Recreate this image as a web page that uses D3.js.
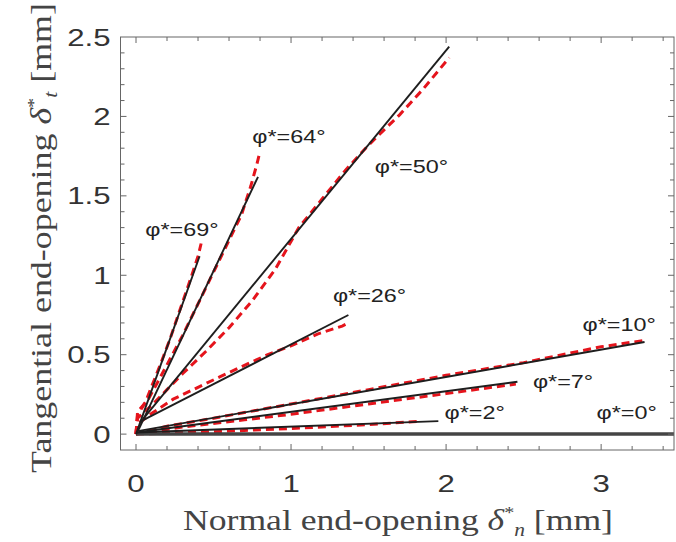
<!DOCTYPE html>
<html>
<head>
<meta charset="utf-8">
<script src="https://cdn.jsdelivr.net/npm/d3@7"></script>
<style>
  body { margin: 0; background: #fff; }
  svg { display: block; }
</style>
</head>
<body>
<div id="chart"></div>
<script>

// angle of each fitted line (deg)
const angles = [0, 2, 7, 10, 26, 50, 64, 69];

// fitted lines: start and end point [dn, dt] in mm
const fitStart = [[0, 0], [0, 0.01], [0, 0.01], [0.02, 0.02], [0.03, 0.08], [0.045, 0.095], [0.013, 0.02], [0, 0]];
const fitEnd   = [[3.6, 0], [1.95, 0.082], [2.46, 0.33], [3.28, 0.58], [1.37, 0.75], [2.02, 2.44], [0.787, 1.62], [0.41, 1.12]];

// measured curves (red dashed)
const meas02 = [[0, 0], [0.5, 0.015], [1.0, 0.035], [1.5, 0.06], [1.82, 0.08]];
const meas07 = [[0, 0], [0.3, 0.045], [0.7, 0.09], [1.0, 0.125], [1.5, 0.19], [2.0, 0.255], [2.3, 0.295], [2.45, 0.315]];
const meas10 = [[0, 0], [0.2, 0.05], [0.5, 0.1], [1.0, 0.19], [1.5, 0.28], [2.0, 0.37], [2.5, 0.45], [3.0, 0.55], [3.28, 0.59]];
const meas26 = [[0, 0], [0.005, 0.06], [0.1, 0.13], [0.24, 0.22], [0.39, 0.29], [0.54, 0.36], [0.67, 0.42], [0.85, 0.5], [1.01, 0.56], [1.17, 0.63], [1.33, 0.68], [1.37, 0.70]];
const meas50 = [[0, 0], [0.01, 0.1], [0.1, 0.18], [0.2, 0.28], [0.3, 0.38], [0.45, 0.52], [0.6, 0.67], [0.75, 0.84], [0.9, 1.04], [1.05, 1.30], [1.2, 1.48], [1.35, 1.66], [1.5, 1.82], [1.7, 2.01], [1.85, 2.17], [2.02, 2.37]];
const meas64 = [[0, 0], [0.01, 0.14], [0.08, 0.22], [0.18, 0.4], [0.3, 0.62], [0.42, 0.86], [0.52, 1.06], [0.6, 1.22], [0.68, 1.38], [0.74, 1.56], [0.78, 1.70], [0.80, 1.78]];
const meas69 = [[0, 0], [0.01, 0.12], [0.06, 0.2], [0.15, 0.42], [0.22, 0.6], [0.3, 0.83], [0.36, 1.0], [0.40, 1.12], [0.42, 1.2]];
const measured = [meas02, meas07, meas10, meas26, meas50, meas64, meas69];

// label anchors [dn, dt]
const labelPos = [[2.97, 0.095], [1.99, 0.095], [2.56, 0.29], [2.88, 0.65], [1.27, 0.83], [1.54, 1.645], [0.75, 1.835], [0.06, 1.25]];

const xTicks = [0, 1, 2, 3];
const yTicks = [0, 0.5, 1, 1.5, 2, 2.5];

const width = 676, height = 542;
const margin = {top: 37, right: 2, bottom: 92, left: 120.5};
const stretch = 1.3;   // the original picture is wider than tall

const svg = d3.select("#chart").append("svg")
    .attr("width", width)
    .attr("height", height);

const x = d3.scaleLinear().domain([-0.1, 3.47]).range([margin.left, width - margin.right]);
const y = d3.scaleLinear().domain([-0.1, 2.5]).range([height - margin.bottom, margin.top]);

const plot = svg.append("g");

// clip to axes box
svg.append("clipPath").attr("id", "clip")
    .append("rect")
    .attr("x", x(-0.1)).attr("y", y(2.5))
    .attr("width", x(3.47) - x(-0.1)).attr("height", y(-0.1) - y(2.5));

const lines = plot.append("g").attr("clip-path", "url(#clip)");

const line = d3.line().x(d => x(d[0])).y(d => y(d[1]));

// red measured curves
lines.selectAll(".meas")
    .data(measured)
    .join("path")
    .attr("class", "meas")
    .attr("d", line)
    .attr("fill", "none")
    .attr("stroke", "#e5141c")
    .attr("stroke-width", 3)
    .attr("stroke-dasharray", "8,5")
    .attr("stroke-linecap", "butt");

// black fitted lines
lines.selectAll(".fit")
    .data(angles)
    .join("path")
    .attr("class", "fit")
    .attr("d", (d, i) => line([fitStart[i], fitEnd[i]]))
    .attr("fill", "none")
    .attr("stroke", (d) => d === 0 ? "#444" : "#1e1e1e")
    .attr("stroke-width", (d) => d === 0 ? 3.5 : 1.9);

// angle labels
plot.selectAll(".lab")
    .data(angles)
    .join("text")
    .attr("class", "lab")
    .attr("transform", (d, i) => `translate(${x(labelPos[i][0])},${y(labelPos[i][1])}) scale(${stretch},1)`)
    .style("font-family", "Liberation Sans, Arial, sans-serif")
    .style("font-size", "18px")
    .style("fill", "#222")
    .text(d => "φ*=" + d + "°");

// axes
const axisCol = "#666";
const axes = svg.append("g");

axes.append("rect")
    .attr("x", x(-0.1)).attr("y", y(2.5))
    .attr("width", x(3.47) - x(-0.1)).attr("height", y(-0.1) - y(2.5))
    .attr("fill", "none")
    .attr("stroke", axisCol)
    .attr("stroke-width", 1);

const xMinor = d3.range(0, 3.41, 0.2);
const yMinor = d3.range(0, 2.5, 0.1);

// x ticks, bottom and top, pointing inward
[[y(-0.1), -1], [y(2.5), 1]].forEach(([y0, dir]) => {
  axes.selectAll(null).data(xMinor).join("line")
      .attr("x1", d => x(d)).attr("x2", d => x(d))
      .attr("y1", y0).attr("y2", d => y0 + dir * (Math.abs(d - Math.round(d)) < 1e-6 ? 6 : 4))
      .attr("stroke", axisCol);
});

// y ticks, left and right
[[x(-0.1), 1], [x(3.47), -1]].forEach(([x0, dir]) => {
  axes.selectAll(null).data(yMinor).join("line")
      .attr("y1", d => y(d)).attr("y2", d => y(d))
      .attr("x1", x0).attr("x2", d => x0 + dir * (Math.abs(d * 2 - Math.round(d * 2)) < 1e-6 ? 6 : 4))
      .attr("stroke", axisCol);
});

const tickFont = "Liberation Sans, Arial, sans-serif";

axes.selectAll(".xt").data(xTicks).join("text")
    .attr("class", "xt")
    .attr("transform", d => `translate(${x(d)},492) scale(${stretch},1)`)
    .attr("text-anchor", "middle")
    .style("font-family", tickFont).style("font-size", "24px").style("fill", "#333")
    .text(d => d);

axes.selectAll(".yt").data(yTicks).join("text")
    .attr("class", "yt")
    .attr("transform", d => `translate(${x(-0.1) - 10},${y(d)}) scale(${stretch},1)`)
    .attr("dy", "0.36em")
    .attr("text-anchor", "end")
    .style("font-family", tickFont).style("font-size", "24px").style("fill", "#333")
    .text(d => d);

// axis titles (serif, LaTeX look)
const serif = "Liberation Serif, DejaVu Serif, serif";

const xl = svg.append("text")
    .attr("x", 398).attr("y", 530)
    .attr("text-anchor", "middle")
    .attr("textLength", 430)
    .attr("lengthAdjust", "spacingAndGlyphs")
    .style("font-family", serif).style("font-size", "30px").style("fill", "#444");
xl.append("tspan").text("Normal end-opening ");
xl.append("tspan").style("font-style", "italic").text("δ");
xl.append("tspan").attr("dy", -12).style("font-size", "17px").text("*");
xl.append("tspan").attr("dy", 18).style("font-size", "18px").style("font-style", "italic").text("n");
xl.append("tspan").attr("dy", -6).text(" [mm]");

const yl = svg.append("text")
    .attr("transform", "translate(51,238) rotate(-90)")
    .attr("text-anchor", "middle")
    .attr("textLength", 470)
    .attr("lengthAdjust", "spacingAndGlyphs")
    .style("font-family", serif).style("font-size", "30px").style("fill", "#444");
yl.append("tspan").text("Tangential end-opening ");
yl.append("tspan").style("font-style", "italic").text("δ");
yl.append("tspan").attr("dy", -12).style("font-size", "17px").text("*");
yl.append("tspan").attr("dy", 18).style("font-size", "18px").style("font-style", "italic").text("t");
yl.append("tspan").attr("dy", -6).text(" [mm]");

</script>
</body>
</html>
